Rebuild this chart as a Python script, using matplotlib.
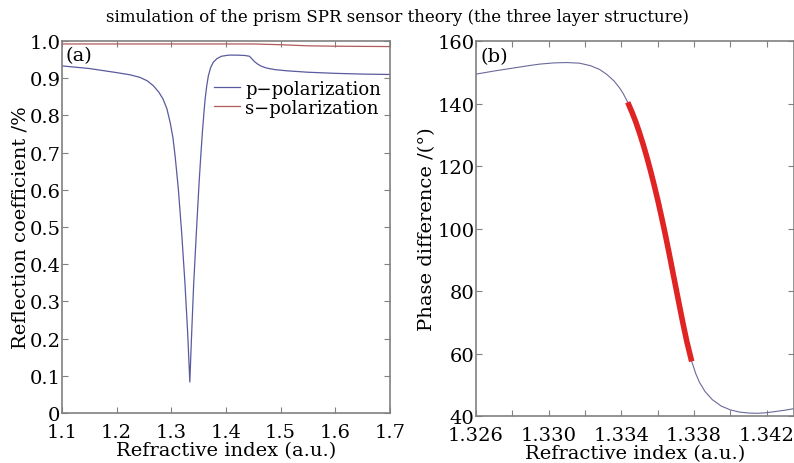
import matplotlib.pyplot as plt
import numpy as np

plt.rcParams['font.family'] = ['DejaVu Serif']

# (a) reflection vs refractive index
n_a = [1.100, 1.150, 1.200, 1.225, 1.243, 1.256, 1.267, 1.277, 1.285, 1.292, 1.298,
       1.303, 1.307, 1.313, 1.319, 1.325, 1.330, 1.334, 1.337, 1.341, 1.346, 1.351,
       1.354, 1.357, 1.360, 1.362, 1.365, 1.368, 1.372, 1.377, 1.384, 1.392, 1.405,
       1.420, 1.435, 1.443, 1.447, 1.452, 1.458, 1.465, 1.475, 1.490, 1.510, 1.550,
       1.600, 1.650, 1.700]
p_pol = [0.933, 0.926, 0.915, 0.909, 0.902, 0.893, 0.880, 0.863, 0.844, 0.818, 0.781,
         0.741, 0.692, 0.602, 0.486, 0.351, 0.217, 0.083, 0.200, 0.345, 0.486, 0.620,
         0.690, 0.755, 0.810, 0.844, 0.880, 0.907, 0.928, 0.943, 0.953, 0.959, 0.962,
         0.962, 0.961, 0.959, 0.953, 0.945, 0.938, 0.932, 0.927, 0.923, 0.920, 0.916,
         0.913, 0.911, 0.910]
n_s = [1.10, 1.30, 1.45, 1.50, 1.55, 1.60, 1.70]
s_pol = [0.992, 0.992, 0.992, 0.990, 0.987, 0.986, 0.985]

# (b) phase difference vs refractive index
n_b = [1.3260, 1.3270, 1.3280, 1.3290, 1.3295, 1.3303, 1.3310, 1.3317, 1.3323, 1.3328,
       1.3332, 1.3336, 1.3339, 1.3341, 1.33435, 1.3346, 1.3348, 1.3350, 1.3352, 1.3354,
       1.3356, 1.3358, 1.3360, 1.3362, 1.3364, 1.3366, 1.3368, 1.3370, 1.3372, 1.3374,
       1.3376, 1.33787, 1.3381, 1.3383, 1.3386, 1.3390, 1.3395, 1.3400, 1.3405,
       1.3410, 1.3415, 1.3420, 1.3425, 1.3430, 1.3435]
phase = [149.4, 150.4, 151.3, 152.2, 152.6, 153.0, 153.1, 152.9, 152.1, 150.9,
         149.3, 147.2, 145.0, 143.2, 140.4, 137.0, 134.0, 130.6, 126.9, 122.9,
         118.6, 114.0, 109.2, 104.0, 98.6, 92.9, 87.0, 81.1, 75.2, 69.4,
         63.9, 57.5, 53.5, 50.8, 47.9, 45.3, 43.2, 42.0, 41.3,
         41.0, 40.9, 41.1, 41.5, 41.9, 42.4]
lin_start, lin_end = 1.33435, 1.33787

fig = plt.figure(figsize=(7.94, 4.64), dpi=100)
ax1 = fig.add_axes([0.078, 0.108, 0.413, 0.8015])
ax2 = fig.add_axes([0.5995, 0.101, 0.4005, 0.8085])

ax1.plot(n_a, p_pol, color='#5a5a9e', lw=0.9, label='p\u2212polarization')
ax1.plot(n_s, s_pol, color='#b05a5a', lw=0.9, label='s\u2212polarization')
ax1.set_xlim(1.1, 1.7)
ax1.set_ylim(0, 1.0)
ax1.set_xticks(np.arange(1.1, 1.71, 0.1))
ax1.set_xticklabels(['1.1', '1.2', '1.3', '1.4', '1.5', '1.6', '1.7'])
ax1.set_yticks(np.arange(0, 1.01, 0.1))
ax1.set_yticklabels(['0', '0.1', '0.2', '0.3', '0.4', '0.5', '0.6', '0.7', '0.8', '0.9', '1.0'])
ax1.set_xlabel('Refractive index (a.u.)', fontsize=14, labelpad=0)
ax1.set_ylabel('Reflection coefficient /%', fontsize=14, labelpad=0)
ax1.text(0.012, 0.985, '(a)', transform=ax1.transAxes, fontsize=14, va='top', ha='left')
ax1.legend(loc='upper right', bbox_to_anchor=(1.0, 0.92), frameon=False, fontsize=13,
           handlelength=1.4, handletextpad=0.3, labelspacing=0.05, borderaxespad=0.1)

nb = np.array(n_b)
ph = np.array(phase)
ax2.plot(nb, ph, color='#6a6a9a', lw=0.8)
m = (nb >= lin_start) & (nb <= lin_end)
ax2.plot(nb[m], ph[m], color='#e02424', lw=4, solid_capstyle='butt')
ax2.set_xlim(1.326, 1.3435)
ax2.set_ylim(40, 160)
ax2.set_xticks(np.arange(1.326, 1.3435, 0.002))
ax2.set_xticklabels(['1.326', '', '1.330', '', '1.334', '', '1.338', '', '1.342'])
ax2.set_yticks(np.arange(40, 161, 20))
ax2.set_xlabel('Refractive index (a.u.)', fontsize=14, labelpad=0)
ax2.set_ylabel('Phase difference /(°)', fontsize=14, labelpad=1)
ax2.text(0.015, 0.985, '(b)', transform=ax2.transAxes, fontsize=14, va='top', ha='left')

for ax in (ax1, ax2):
    for sp in ax.spines.values():
        sp.set_color('#808080')
        sp.set_linewidth(1.2)
    ax.tick_params(direction='in', length=4, width=0.8, color='#808080',
                   labelsize=14, top=True, right=True)
    ax.tick_params(axis='x', pad=7)
    ax.tick_params(axis='y', pad=1)

fig.text(0.5, 0.962, 'simulation of the prism SPR sensor theory (the three layer structure)',
         ha='center', va='center', fontsize=12)

plt.savefig('out.png', dpi=100)
